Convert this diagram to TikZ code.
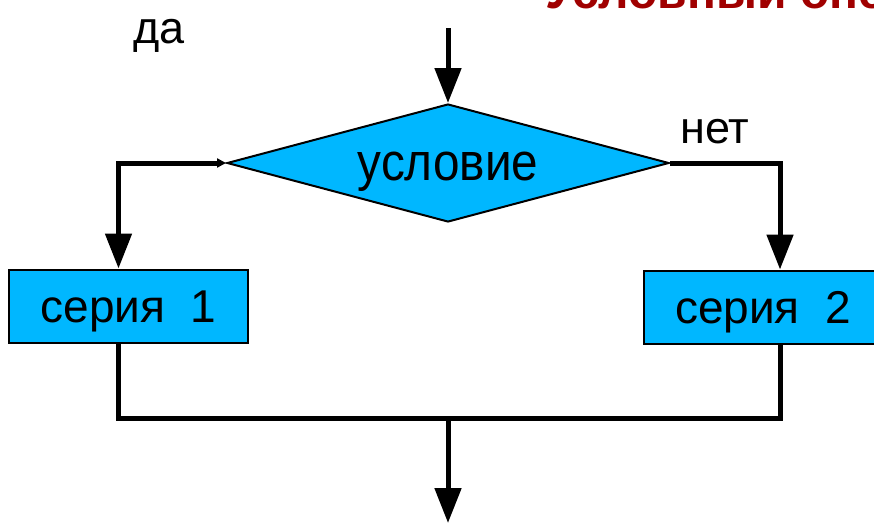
\documentclass[tikz,border=0pt]{standalone}
\usepackage{fontspec}
\setmainfont{Liberation Sans}
\newfontfamily\condfont[FakeStretch=0.9]{Liberation Sans}
\usetikzlibrary{shapes.geometric,arrows.meta}
\definecolor{fillc}{RGB}{0,183,255}
\definecolor{titlec}{RGB}{160,0,0}
\begin{document}
\begin{tikzpicture}[x=1pt,y=-1pt,
  conn/.style={line width=5pt},
  bigtip/.style={-{Triangle[length=35pt,width=26pt]}},
  block/.style={draw, line width=2pt, fill=fillc, minimum width=239pt,
    minimum height=73pt, inner sep=0pt, text height=33pt, text depth=0pt,
    font=\fontsize{46}{52}\selectfont},
  cond/.style={draw, line width=2pt, fill=fillc, shape=diamond, aspect=3.75,
    minimum width=442pt, minimum height=118pt, inner sep=0pt,
    text height=34pt, text depth=0pt, font=\condfont\fontsize{53}{58}\selectfont},
  lab/.style={inner sep=0pt, font=\fontsize{45}{50}\selectfont},
  ttl/.style={inner sep=0pt, text=titlec, font=\fontsize{48}{54}\selectfont\bfseries}
]
\useasboundingbox (0,0) rectangle (874,528);
\clip (0,0) rectangle (874,528);

\node[ttl, anchor=base west] (title) at (545,8) {Условный оператор};

\node[cond] (d) at (448,163) {условие};
\node[block] (b1) at (128.5,306) {серия~~1};
\node[block, minimum width=238pt] (b2) at (763,307) {серия~~2};

\node[lab, anchor=base] (da) at (159,43) {да};
\node[lab, anchor=base] (net) at (715,143) {нет};

\coordinate (tin) at (448,28);
\coordinate (j) at (448,418);
\coordinate (out) at (448,523);

\draw[conn,bigtip] (tin) -- (d.north);
\draw[conn,{Triangle[length=9pt,width=9pt]}-{Triangle[length=35pt,width=26pt]}]
  (d.west) -| ([xshift=-10pt]b1.north);
\draw[conn,bigtip] (d.east) -| ([xshift=17pt]b2.north);
\draw[conn] ([xshift=-10pt]b1.south) |- (j) -| ([xshift=17pt]b2.south);
\draw[conn,bigtip] (j) -- (out);
\end{tikzpicture}
\end{document}
